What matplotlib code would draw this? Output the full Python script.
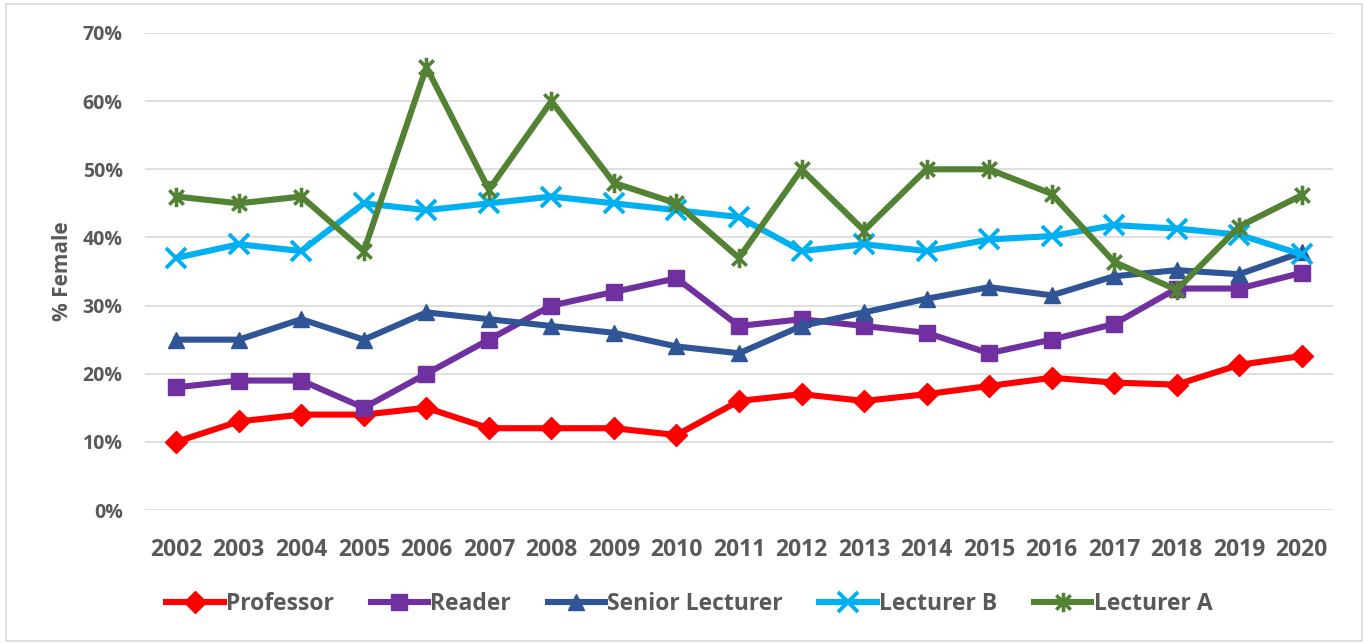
import matplotlib
matplotlib.use("Agg")
import matplotlib.pyplot as plt
from matplotlib.path import Path
from matplotlib.patches import Rectangle
from matplotlib.ticker import PercentFormatter

years = ["2002", "2003", "2004", "2005", "2006", "2007", "2008", "2009", "2010", "2011",
         "2012", "2013", "2014", "2015", "2016", "2017", "2018", "2019", "2020"]

professor = [10, 13, 14, 14, 15, 12, 12, 12, 11, 16, 17, 16, 17, 18.2, 19.4, 18.7, 18.4, 21.3, 22.6]
reader = [18, 19, 19, 15, 20, 25, 30, 32, 34, 27, 28, 27, 26, 23, 25, 27.3, 32.5, 32.5, 34.8]
senior_lecturer = [25, 25, 28, 25, 29, 28, 27, 26, 24, 23, 27, 29, 31, 32.7, 31.5, 34.3, 35.2, 34.6, 37.8]
lecturer_b = [37, 39, 38, 45, 44, 45, 46, 45, 44, 43, 38, 39, 38, 39.7, 40.2, 41.8, 41.3, 40.4, 37.5]
lecturer_a = [46, 45, 46, 38, 65, 47, 60, 48, 45, 37, 50, 41, 50, 50, 46.4, 36.4, 32.3, 41.6, 46.2]

grey = "#595959"
plt.rcParams["font.family"] = ["Open Sans", "DejaVu Sans"]
plt.rcParams["font.weight"] = "bold"

# Excel-style asterisk: an X with a vertical stroke through it
star = Path([(-1, -1), (1, 1), (-1, 1), (1, -1), (0, -1.35), (0, 1.35)],
            [Path.MOVETO, Path.LINETO] * 3)

fig = plt.figure(figsize=(13.65, 6.44), dpi=100)
ax = fig.add_axes([145 / 1365, 134 / 644, 1188 / 1365, 477 / 644])

x = list(range(len(years)))
lw = 4.4
ax.plot(x, professor, color="#FF0000", lw=lw, marker="D", ms=11, label="Professor")
ax.plot(x, reader, color="#7030A0", lw=lw, marker="s", ms=11, label="Reader")
ax.plot(x, senior_lecturer, color="#2F5597", lw=lw, marker="^", ms=12, label="Senior Lecturer")
ax.plot(x, lecturer_b, color="#00B0F0", lw=lw, marker="x", ms=14, mew=2.8, label="Lecturer B")
ax.plot(x, lecturer_a, color="#548235", lw=lw, marker=star, ms=14, mew=2.6, label="Lecturer A")

ax.set_xlim(-0.5, len(years) - 0.5)
ax.set_ylim(0, 70)
ax.set_yticks(range(0, 71, 10))
ax.yaxis.set_major_formatter(PercentFormatter(decimals=0))
ax.set_xticks(x)
ax.set_xticklabels(years)
ax.grid(axis="y", color="#D9D9D9", lw=1.2)
ax.set_axisbelow(True)
for s in ax.spines.values():
    s.set_visible(False)
ax.tick_params(axis="both", length=0, colors=grey)
ax.tick_params(axis="x", labelsize=16.5, pad=20)
ax.tick_params(axis="y", labelsize=14, pad=16)
ax.set_ylabel("% Female", fontsize=15, color=grey, fontweight="bold", labelpad=7)

leg = fig.legend(loc="center", bbox_to_anchor=(0.505, 1 - 604 / 644), ncol=5, frameon=False,
                 fontsize=16.5, handlelength=2.5, handletextpad=0.1, columnspacing=1.6,
                 labelcolor=grey)

fig.patches.append(Rectangle((6 / 1365, 3 / 644), 1356 / 1365, 637 / 644, transform=fig.transFigure,
                             fill=False, edgecolor="#D9D9D9", lw=1.2))

fig.savefig("out.png", dpi=100)
